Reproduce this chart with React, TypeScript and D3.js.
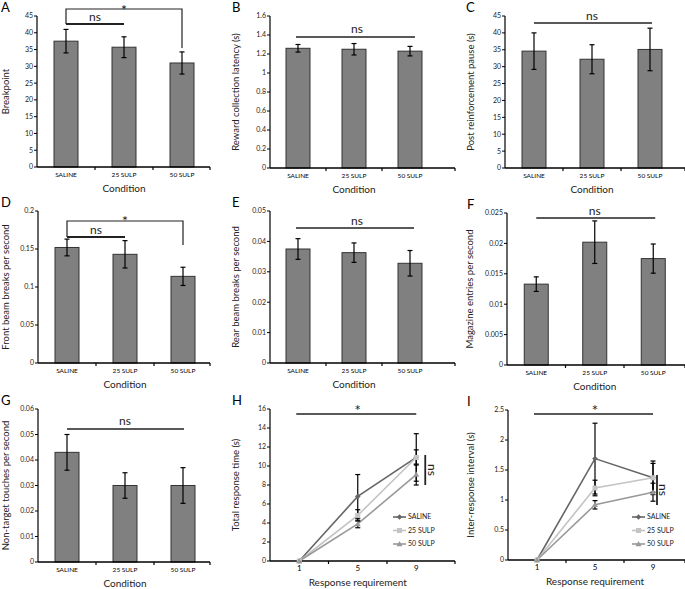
import React from 'react';
import * as d3 from 'd3';

const conditions = ['SALINE', '25 SULP', '50 SULP'];

const breakpointMean = [37.5, 35.7, 31.0];
const breakpointErr = [3.5, 3.1, 3.3];
const latencyMean = [1.26, 1.25, 1.23];
const latencyErr = [0.04, 0.06, 0.05];
const pauseMean = [34.6, 32.2, 35.1];
const pauseErr = [5.4, 4.3, 6.3];
const frontMean = [0.152, 0.143, 0.114];
const frontErr = [0.011, 0.018, 0.012];
const rearMean = [0.0375, 0.0363, 0.0328];
const rearErr = [0.0034, 0.0032, 0.0042];
const magMean = [0.0133, 0.0202, 0.0175];
const magErr = [0.0012, 0.0035, 0.0024];
const nonTargetMean = [0.043, 0.03, 0.03];
const nonTargetErr = [0.007, 0.005, 0.007];

const responseReq = ['1', '5', '9'];
const seriesNames = ['SALINE', '25 SULP', '50 SULP'];
const trtMean = [
  [0, 6.8, 10.9],
  [0, 4.8, 10.9],
  [0, 3.9, 9.1],
];
const trtErr = [
  [0, 2.3, 2.5],
  [0, 0.6, 0.8],
  [0, 0.4, 1.1],
];
const iriMean = [
  [0, 1.69, 1.37],
  [0, 1.2, 1.37],
  [0, 0.92, 1.13],
];
const iriErr = [
  [0, 0.59, 0.28],
  [0, 0.13, 0.24],
  [0, 0.07, 0.15],
];

const FONT = 'Lato, "Open Sans", sans-serif';
const seriesColor = ['#666666', '#c4c4c4', '#999999'];

const fmt = (v) => String(+v.toFixed(4));

// one panel's frame: axes, ticks, labels
function Frame({ p, y, x }) {
  const ticks = d3.range(0, p.max + p.step / 2, p.step);
  return (
    <g fontFamily={FONT}>
      <text x={p.letterX} y={p.top - 4} fontSize={13} fill="#000">{p.letter}</text>
      <line x1={p.x0} x2={p.x0} y1={p.top} y2={p.bot} stroke="#000" strokeWidth={1.2} />
      <line x1={p.x0} x2={p.x1} y1={p.bot} y2={p.bot} stroke="#000" strokeWidth={1.6} />
      {ticks.map((t) => (
        <g key={t}>
          <line x1={p.x0 - 3} x2={p.x0} y1={y(t)} y2={y(t)} stroke="#000" strokeWidth={1} />
          <text x={p.x0 - 4} y={y(t)} dy="0.35em" fontSize={7} textAnchor="end" fill="#222">{fmt(t)}</text>
        </g>
      ))}
      {x.domain().slice(1).map((c) => (
        <line key={c} x1={x(c)} x2={x(c)} y1={p.bot} y2={p.bot + 3} stroke="#000" strokeWidth={1.2} />
      ))}
      <line x1={p.x1} x2={p.x1} y1={p.bot} y2={p.bot + 3} stroke="#000" strokeWidth={1.2} />
      {x.domain().map((c) => (
        <text key={c} x={x(c) + x.bandwidth() / 2} y={p.bot + 10} fontSize={p.line ? 8 : 6.5} textAnchor="middle" fill="#000">{c}</text>
      ))}
      <text x={(x.range()[0] + x.range()[1]) / 2} y={p.bot + 25} fontSize={10} textAnchor="middle" fill="#222">{p.xLabel}</text>
      <text transform={`translate(${p.yLabelX},${(p.top + p.bot) / 2}) rotate(-90)`} fontSize={9.5} textAnchor="middle" dy="0.35em" fill="#222">{p.yLabel}</text>
    </g>
  );
}

function ErrBar({ cx, y, m, e }) {
  if (!e) return null;
  return (
    <g stroke="#000" strokeWidth={1.2}>
      <line x1={cx} x2={cx} y1={y(m - e)} y2={y(m + e)} />
      <line x1={cx - 2.5} x2={cx + 2.5} y1={y(m - e)} y2={y(m - e)} />
      <line x1={cx - 2.5} x2={cx + 2.5} y1={y(m + e)} y2={y(m + e)} />
    </g>
  );
}

function BarPanel({ p }) {
  const x = d3.scaleBand().domain(conditions).range([p.x0, p.x0 + 3 * p.bw]);
  const y = d3.scaleLinear().domain([0, p.max]).range([p.bot, p.top]);
  const c = (k) => x(conditions[k]) + x.bandwidth() / 2;
  const barW = 24;
  return (
    <g>
      {conditions.map((cat, i) => (
        <g key={cat}>
          <rect x={c(i) - barW / 2} y={y(p.mean[i])} width={barW} height={p.bot - y(p.mean[i])}
            fill="#808080" stroke="#333" strokeWidth={1} />
          <ErrBar cx={c(i)} y={y} m={p.mean[i]} e={p.err[i]} />
        </g>
      ))}
      <Frame p={p} y={y} x={x} />
      {p.sig(c)}
    </g>
  );
}

function Marker({ k, cx, cy }) {
  const col = seriesColor[k];
  if (k === 0) return <path d={`M${cx},${cy - 2.8}L${cx + 2.8},${cy}L${cx},${cy + 2.8}L${cx - 2.8},${cy}Z`} fill={col} />;
  if (k === 1) return <rect x={cx - 2.5} y={cy - 2.5} width={5} height={5} fill={col} />;
  return <path d={`M${cx},${cy - 3}L${cx + 3},${cy + 2.2}L${cx - 3},${cy + 2.2}Z`} fill={col} />;
}

function LinePanel({ p }) {
  const x = d3.scaleBand().domain(responseReq).range([p.x0, p.x0 + 3 * p.bw]);
  const y = d3.scaleLinear().domain([0, p.max]).range([p.bot, p.top]);
  const c = (k) => x(responseReq[k]) + x.bandwidth() / 2;
  const line = d3.line().x((d, i) => c(i)).y((d) => y(d));
  return (
    <g>
      <Frame p={{ ...p, line: true }} y={y} x={x} />
      {p.mean.map((s, k) => (
        <path key={k} d={line(s)} fill="none" stroke={seriesColor[k]} strokeWidth={1.6} />
      ))}
      {p.mean.map((s, k) => s.map((m, i) => (
        <ErrBar key={`${k}-${i}`} cx={c(i)} y={y} m={m} e={p.err[k][i]} />
      )))}
      {p.mean.map((s, k) => s.map((m, i) => (
        <Marker key={`m${k}-${i}`} k={k} cx={c(i)} cy={y(m)} />
      )))}
      {seriesNames.map((n, k) => {
        const ly = p.legY + k * 13.5;
        return (
          <g key={n}>
            <line x1={p.legX} x2={p.legX + 13} y1={ly} y2={ly} stroke={seriesColor[k]} strokeWidth={1.6} />
            <Marker k={k} cx={p.legX + 6.5} cy={ly} />
            <text x={p.legX + 15} y={ly} dy="0.35em" fontSize={7} fontFamily={FONT} fill="#222">{n}</text>
          </g>
        );
      })}
      {p.sig(c)}
    </g>
  );
}

const txt = (x, y, s, size = 12) => (
  <text x={x} y={y} fontSize={size} textAnchor="middle" fontFamily={FONT} fill="#222" stroke="none">{s}</text>
);

const bars = [
  {
    letter: 'A', letterX: 1, x0: 37, x1: 210, bw: 58, top: 16, bot: 167, max: 45, step: 5,
    mean: breakpointMean, err: breakpointErr, yLabel: 'Breakpoint', yLabelX: 6, xLabel: 'Condition',
    sig: (c) => (
      <g stroke="#222" fill="none">
        <line x1={c(0)} x2={c(1)} y1={24} y2={24} strokeWidth={2.2} />
        <polyline points={`${c(0)},24 ${c(0)},9 ${c(2)},9 ${c(2)},48`} strokeWidth={1.2} />
        {txt((c(0) + c(1)) / 2, 21, 'ns')}
        {txt((c(0) + c(2)) / 2, 15, '*', 14)}
      </g>
    ),
  },
  {
    letter: 'B', letterX: 232, x0: 270, x1: 455, bw: 56, top: 16, bot: 168, max: 1.6, step: 0.2,
    mean: latencyMean, err: latencyErr, yLabel: 'Reward collection latency (s)', yLabelX: 236, xLabel: 'Condition',
    sig: (c) => (
      <g stroke="#222">
        <line x1={c(0) - 2} x2={c(2) + 5} y1={37} y2={37} strokeWidth={1.5} />
        {txt((c(0) + c(2)) / 2 + 3, 33, 'ns')}
      </g>
    ),
  },
  {
    letter: 'C', letterX: 466, x0: 505, x1: 685, bw: 58, top: 16, bot: 168, max: 45, step: 5,
    mean: pauseMean, err: pauseErr, yLabel: 'Post reinforcement pause (s)', yLabelX: 471, xLabel: 'Condition',
    sig: (c) => (
      <g stroke="#222">
        <line x1={c(0)} x2={c(2) + 2} y1={23} y2={23} strokeWidth={1.5} />
        {txt((c(0) + c(2)) / 2, 20, 'ns')}
      </g>
    ),
  },
  {
    letter: 'D', letterX: 1, x0: 38, x1: 210, bw: 58, top: 211, bot: 363, max: 0.2, step: 0.05,
    mean: frontMean, err: frontErr, yLabel: 'Front beam breaks per second', yLabelX: 6, xLabel: 'Condition',
    sig: (c) => (
      <g stroke="#222" fill="none">
        <line x1={c(0)} x2={c(1)} y1={237} y2={237} strokeWidth={2.2} />
        <polyline points={`${c(0)},237 ${c(0)},221 ${c(2)},221 ${c(2)},245`} strokeWidth={1.2} />
        {txt((c(0) + c(1)) / 2, 234, 'ns')}
        {txt((c(0) + c(2)) / 2, 226, '*', 14)}
      </g>
    ),
  },
  {
    letter: 'E', letterX: 232, x0: 270, x1: 455, bw: 56, top: 211, bot: 363, max: 0.05, step: 0.01,
    mean: rearMean, err: rearErr, yLabel: 'Rear beam breaks per second', yLabelX: 236, xLabel: 'Condition',
    sig: (c) => (
      <g stroke="#222">
        <line x1={c(0) - 2} x2={c(2) + 4} y1={228} y2={228} strokeWidth={1.5} />
        {txt((c(0) + c(2)) / 2 + 3, 225, 'ns')}
      </g>
    ),
  },
  {
    letter: 'F', letterX: 467, x0: 507, x1: 685, bw: 58.5, top: 213, bot: 365, max: 0.025, step: 0.005,
    mean: magMean, err: magErr, yLabel: 'Magazine entries per second', yLabelX: 470, xLabel: 'Condition',
    sig: (c) => (
      <g stroke="#222">
        <line x1={c(0)} x2={c(2) + 2} y1={218} y2={218} strokeWidth={1.5} />
        {txt((c(0) + c(2)) / 2, 215, 'ns')}
      </g>
    ),
  },
  {
    letter: 'G', letterX: 1, x0: 38, x1: 210, bw: 58, top: 409, bot: 562, max: 0.06, step: 0.01,
    mean: nonTargetMean, err: nonTargetErr, yLabel: 'Non-target touches per second', yLabelX: 6, xLabel: 'Condition',
    sig: (c) => (
      <g stroke="#222">
        <line x1={c(0)} x2={c(2) + 1} y1={429} y2={429} strokeWidth={1.5} />
        {txt((c(0) + c(2)) / 2, 425, 'ns')}
      </g>
    ),
  },
];

const lines = [
  {
    letter: 'H', letterX: 232, x0: 270, x1: 455, bw: 58.5, top: 409, bot: 561, max: 16, step: 2,
    mean: trtMean, err: trtErr, yLabel: 'Total response time (s)', yLabelX: 236, xLabel: 'Response requirement',
    legX: 393, legY: 517,
    sig: (c) => (
      <g stroke="#222">
        <line x1={c(0) - 3} x2={c(2)} y1={414} y2={414} strokeWidth={1.5} />
        {txt((c(0) + c(2)) / 2, 416, '*', 15)}
        <line x1={c(2) + 9} x2={c(2) + 9} y1={455} y2={485} strokeWidth={1.8} />
        <text transform={`translate(${c(2) + 15},470) rotate(90)`} fontSize={12} textAnchor="middle" dy="0.3em" fontFamily={FONT} fill="#222" stroke="none">ns</text>
      </g>
    ),
  },
  {
    letter: 'I', letterX: 467, x0: 508, x1: 685, bw: 58, top: 410, bot: 560, max: 2.5, step: 0.5,
    mean: iriMean, err: iriErr, yLabel: 'Inter-response interval (s)', yLabelX: 471, xLabel: 'Response requirement',
    legX: 632, legY: 517,
    sig: (c) => (
      <g stroke="#222">
        <line x1={c(0) - 3} x2={c(2)} y1={414} y2={414} strokeWidth={1.5} />
        {txt((c(0) + c(2)) / 2, 416, '*', 15)}
        <line x1={c(2) + 4} x2={c(2) + 4} y1={475} y2={505} strokeWidth={1.8} />
        <text transform={`translate(${c(2) + 10},490) rotate(90)`} fontSize={12} textAnchor="middle" dy="0.3em" fontFamily={FONT} fill="#222" stroke="none">ns</text>
      </g>
    ),
  },
];

export default function App() {
  return (
    <svg width={685} height={589} style={{ position: 'absolute', left: 0, top: 0, background: '#fff' }}>
      <rect width={685} height={589} fill="#fff" />
      {bars.map((p) => <BarPanel key={p.letter} p={p} />)}
      {lines.map((p) => <LinePanel key={p.letter} p={p} />)}
    </svg>
  );
}
